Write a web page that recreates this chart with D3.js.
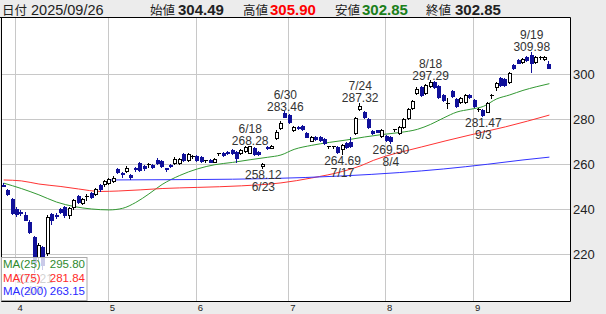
<!DOCTYPE html>
<html>
<head>
<meta charset="utf-8">
<script src="https://cdn.jsdelivr.net/npm/d3@7"></script>
<style>
  body { margin: 0; background: #ececec; }
  svg { display: block; font-family: "Liberation Sans", Arial, sans-serif; }
</style>
</head>
<body>
<div id="chart"></div>
<script>
// trading days shown (Mar 27 -> Sep 26, 2025)
var dates = [
  "03/27","03/28","03/31",
  "04/01","04/02","04/03","04/04","04/07","04/08","04/09","04/10","04/11","04/14",
  "04/15","04/16","04/17","04/18","04/21","04/22","04/23","04/24","04/25","04/28","04/30",
  "05/01","05/02","05/07","05/08","05/09","05/12","05/13","05/14","05/15","05/16",
  "05/19","05/20","05/21","05/22","05/23","05/26","05/27","05/28","05/29","05/30",
  "06/02","06/03","06/04","06/05","06/06","06/09","06/10","06/11","06/12","06/13",
  "06/16","06/17","06/18","06/19","06/20","06/23","06/24","06/25","06/26","06/27","06/30",
  "07/01","07/02","07/03","07/04","07/07","07/08","07/09","07/10","07/11","07/14","07/15",
  "07/16","07/17","07/18","07/22","07/23","07/24","07/25","07/28","07/29","07/30","07/31",
  "08/01","08/04","08/05","08/06","08/07","08/08","08/12","08/13","08/14","08/15",
  "08/18","08/19","08/20","08/21","08/22","08/25","08/26","08/27","08/28","08/29",
  "09/01","09/02","09/03","09/04","09/05","09/08","09/09","09/10","09/11","09/12",
  "09/16","09/17","09/18","09/19","09/22","09/24","09/25","09/26"
];

var open = [
  250.9,248.6,244.6,
  240.1,238.8,237.6,234.5,227.5,218.6,223.0,220.4,237.9,237.6,
  240.0,241.0,237.5,240.9,245.9,242.9,245.6,247.1,246.7,250.8,251.1,
  251.6,252.6,257.9,256.1,257.2,255.0,258.3,260.4,259.2,260.0,
  259.6,262.0,261.6,258.3,259.7,260.4,260.7,264.6,262.0,263.4,
  263.7,263.1,261.5,261.9,261.2,264.6,264.9,265.6,266.4,265.6,
  264.9,266.0,265.2,267.1,265.6,259.4,267.6,267.3,271.6,276.0,282.7,
  281.9,275.3,276.7,277.1,273.8,270.5,272.2,272.0,271.1,267.7,267.9,
  267.8,266.8,269.3,270.0,273.8,284.4,283.4,280.0,274.8,275.0,272.6,
  272.6,272.3,275.3,274.0,276.7,280.4,284.9,291.8,294.2,291.6,
  294.8,296.5,294.8,290.8,286.8,292.6,288.9,287.8,287.6,290.8,
  288.6,284.5,284.1,283.4,290.4,294.2,298.2,297.8,296.7,304.1,
  306.4,305.6,307.6,308.6,305.6,307.5,306.7,304.49
];
var high = [
  251.8,249.2,245.2,
  240.8,239.6,238.6,235.2,228.2,225.0,223.6,237.3,238.5,238.3,
  240.6,241.6,241.2,244.6,246.5,245.0,246.8,247.7,249.5,251.3,253.2,
  253.9,254.6,258.4,256.4,259.0,255.6,258.6,261.0,259.8,260.6,
  260.1,262.6,262.0,258.5,260.2,263.0,262.7,265.1,265.0,264.0,
  264.1,263.5,262.0,262.3,262.6,265.1,265.3,266.0,266.8,266.0,
  266.8,268.1,268.28,267.6,266.0,260.6,267.9,268.6,275.0,279.0,283.46,
  282.3,277.1,277.1,277.5,274.2,272.4,272.6,272.4,271.5,268.1,268.3,
  268.2,269.0,269.7,272.3,280.9,287.32,283.8,280.4,275.2,275.4,275.6,
  273.0,272.7,275.7,277.1,280.4,284.8,288.7,294.2,294.6,295.6,
  297.29,297.0,295.2,291.2,289.5,293.2,289.3,289.7,291.2,291.2,
  289.0,285.2,284.5,287.5,291.4,296.4,298.6,298.2,300.8,304.5,
  306.8,307.1,308.0,309.98,308.0,308.1,308.2,305.90
];
var low = [
  250.2,246.3,237.8,
  237.2,237.5,235.0,229.4,212.21,217.0,213.4,219.6,233.5,236.0,
  238.2,236.4,236.1,240.3,242.9,242.3,244.1,245.0,246.2,248.3,250.5,
  251.0,251.9,255.9,254.2,256.7,253.5,257.0,257.0,257.6,258.6,
  258.2,259.9,258.6,257.2,258.6,260.0,260.2,261.5,261.6,262.8,
  261.6,261.0,261.0,260.8,260.9,264.1,263.7,264.5,264.5,261.0,
  264.5,265.6,264.8,264.2,264.2,258.12,266.6,267.0,271.2,275.6,280.8,
  278.5,274.6,275.6,275.2,271.9,270.1,270.6,270.2,268.9,267.2,267.0,
  265.2,264.69,267.2,267.7,273.4,284.0,280.5,276.3,273.4,274.1,272.2,
  270.4,269.50,274.8,273.6,276.3,280.0,284.5,291.2,290.2,291.2,
  294.4,293.8,289.6,288.2,285.0,290.0,285.5,287.4,287.2,289.4,
  285.5,283.8,281.47,283.0,289.4,293.2,294.8,294.8,296.3,302.3,
  304.8,305.2,306.0,301.2,305.2,306.9,306.3,302.85
];
var close = [
  250.8,246.9,238.4,
  237.9,238.3,235.4,230.0,216.5,224.1,215.0,236.7,235.3,237.1,
  238.8,237.5,240.6,244.1,243.4,244.4,245.6,245.6,248.9,248.9,252.6,
  253.3,254.0,256.4,256.0,258.5,254.5,258.2,257.5,258.2,260.0,
  258.6,260.4,259.0,258.2,259.0,262.5,262.2,261.9,264.6,263.4,
  262.0,261.6,261.5,261.2,262.2,264.6,264.1,264.9,264.9,262.7,
  266.4,267.8,267.9,264.6,264.6,260.3,267.5,268.2,274.5,278.5,281.2,
  278.9,276.7,276.0,275.6,272.3,272.0,271.0,270.6,269.3,267.7,267.9,
  265.6,268.6,267.6,268.1,280.4,285.9,280.9,276.7,273.8,274.5,275.2,
  270.8,270.1,275.3,276.7,280.0,284.4,288.3,293.6,290.8,295.2,
  296.7,294.2,290.0,288.6,286.8,290.4,285.9,289.3,290.8,289.8,
  285.9,284.5,281.9,287.1,290.4,296.0,295.2,295.2,300.4,302.7,
  305.2,306.7,306.4,304.9,307.6,307.5,307.8,302.85
];

// moving averages: [date, value]
var ma25 = [
  ["03/27",251.6],["04/02",249.2],["04/08",246.4],["04/14",243.2],["04/18",241.2],
  ["04/24",240.1],["05/01",239.7],["05/08",240.4],["05/13",243.0],["05/16",246.8],
  ["05/21",251.0],["05/27",255.0],["06/02",257.9],["06/06",259.8],["06/12",260.8],
  ["06/18",262.0],["06/24",263.1],["06/27",264.1],["07/02",266.6],["07/08",268.4],
  ["07/14",269.7],["07/18",270.8],["07/25",272.1],["07/31",273.2],["08/06",274.1],
  ["08/13",275.5],["08/18",277.7],["08/21",280.6],["08/26",283.2],["08/29",284.4],
  ["09/03",285.7],["09/08",289.0],["09/11",290.8],["09/17",292.8],["09/22",294.4],
  ["09/26",295.80]
];
var ma75 = [
  ["03/27",253.0],["04/02",252.6],["04/08",251.2],["04/15",250.1],["04/21",249.0],
  ["04/28",247.9],["05/07",248.1],["05/14",248.6],["05/21",249.2],["06/02",249.7],
  ["06/16",250.4],["06/27",251.7],["07/08",253.9],["07/17",256.8],["07/24",259.2],
  ["07/29",261.7],["08/14",267.7],["08/29",273.0],["09/10",276.6],["09/26",281.84]
];
var ma200 = [
  ["05/01",253.0],["06/02",253.2],["06/24",253.6],["07/17",254.8],["08/06",256.3],
  ["08/21",257.9],["09/04",260.0],["09/17",261.9],["09/26",263.15]
];

var markHigh = ["06/18","06/30","07/24","08/18","09/19"];
var markLow = ["04/07","06/23","07/17","08/04","09/03"];
var yTicks = [220, 240, 260, 280, 300];

var svgWidth = 606;
var svgHeight = 314;
var plot = { left: 1.5, top: 17.5, right: 570.5, bottom: 301.5 };

var svg = d3.select("#chart")
  .append("svg")
  .attr("width", svgWidth)
  .attr("height", svgHeight);

var x = d3.scaleLinear()
  .domain([-0.5, 128.8])
  .range([plot.left, plot.right]);

var y = d3.scaleLinear()
  .domain([199.0, 325.2])
  .range([plot.bottom, plot.top]);

function idx(d) { return dates.indexOf(d); }
function px(v) { return Math.floor(v) + 0.5; }
// "08/04" -> "8/4"
function shortDate(d) { return d.split("/").map(s => +s).join("/"); }

var blue = "#10109a";

// background
svg.append("rect")
  .attr("width", svgWidth)
  .attr("height", svgHeight)
  .attr("fill", "#ececec");

svg.append("rect")
  .attr("x", plot.left)
  .attr("y", plot.top)
  .attr("width", plot.right - plot.left)
  .attr("height", plot.bottom - plot.top)
  .attr("fill", "#fff");

// grid
var grid = svg.append("g").attr("stroke", "#c8c8c8").attr("stroke-width", 1);

grid.selectAll(".hg")
  .data(yTicks)
  .enter()
  .append("line")
  .attr("x1", plot.left)
  .attr("x2", plot.right)
  .attr("y1", d => px(y(d)))
  .attr("y2", d => px(y(d)));

var monthStarts = dates.map((d, i) => i)
  .filter(i => i > 0 && dates[i].slice(0, 2) !== dates[i - 1].slice(0, 2));

grid.selectAll(".vg")
  .data(monthStarts)
  .enter()
  .append("line")
  .attr("x1", i => px(x(i) - 1))
  .attr("x2", i => px(x(i) - 1))
  .attr("y1", plot.top)
  .attr("y2", plot.bottom);

// moving averages
var line = d3.line()
  .x(d => x(idx(d[0])))
  .y(d => y(d[1]))
  .curve(d3.curveMonotoneX);

[[ma25, "#339933"], [ma75, "#ff3333"], [ma200, "#3333ff"]].forEach(function(m) {
  svg.append("path")
    .attr("d", line(m[0]))
    .attr("fill", "none")
    .attr("stroke", m[1])
    .attr("stroke-width", 1);
});

// candles
var candles = svg.append("g");

dates.forEach(function(d, i) {
  var cx = Math.round(x(i));
  var o = open[i], c = close[i];
  var up = c > o, flat = Math.abs(c - o) < 0.05;
  var col = (up || flat) ? "#000" : blue;

  candles.append("line")
    .attr("x1", cx - 0.5)
    .attr("x2", cx - 0.5)
    .attr("y1", Math.round(y(high[i])))
    .attr("y2", Math.round(y(low[i])) + 1)
    .attr("stroke", col);

  if (flat) {
    candles.append("line")
      .attr("x1", cx - 2)
      .attr("x2", cx + 2)
      .attr("y1", px(y(c)))
      .attr("y2", px(y(c)))
      .attr("stroke", "#000");
  } else {
    var top = Math.round(y(Math.max(o, c)));
    var bot = Math.round(y(Math.min(o, c)));
    candles.append("rect")
      .attr("x", cx - 1.5)
      .attr("y", top + 0.5)
      .attr("width", 3)
      .attr("height", Math.max(bot - top, 1))
      .attr("fill", up ? "#fff" : blue)
      .attr("stroke", up ? "#000" : blue);
  }
});

// high / low annotations
var notes = svg.append("g")
  .attr("font-size", "12px")
  .attr("fill", "#333")
  .attr("text-anchor", "middle");

markHigh.forEach(function(d) {
  var i = idx(d);
  notes.append("text")
    .attr("x", x(i))
    .attr("y", y(high[i]) - 12.5)
    .text(shortDate(d));
  notes.append("text")
    .attr("x", x(i))
    .attr("y", y(high[i]) - 0.5)
    .text(high[i].toFixed(2));
});

markLow.forEach(function(d) {
  var i = idx(d);
  notes.append("text")
    .attr("x", x(i))
    .attr("y", y(low[i]) + 11)
    .text(low[i].toFixed(2));
  notes.append("text")
    .attr("x", x(i))
    .attr("y", y(low[i]) + 23)
    .text(shortDate(d));
});

// frame
svg.append("path")
  .attr("d", `M${plot.left},${plot.top}V${plot.bottom}H${plot.right}V${plot.top}`)
  .attr("fill", "none")
  .attr("stroke", "#000");
svg.append("line")
  .attr("x1", 0)
  .attr("x2", plot.right)
  .attr("y1", plot.top)
  .attr("y2", plot.top)
  .attr("stroke", "#000");

// y axis labels (right side)
svg.append("g")
  .selectAll("text")
  .data(yTicks)
  .enter()
  .append("text")
  .attr("x", 573)
  .attr("y", d => y(d) + 5)
  .attr("font-size", "13px")
  .attr("fill", "#222")
  .text(d => d);

// x axis labels (month numbers)
svg.append("g")
  .selectAll("text")
  .data(monthStarts)
  .enter()
  .append("text")
  .attr("x", i => x(i) + 0.5)
  .attr("y", 310.5)
  .attr("font-size", "9.5px")
  .attr("fill", "#222")
  .text(i => +dates[i].slice(0, 2));

// legend box (semi transparent, the 4/7 low label sits under it)
var legend = svg.append("g");
legend.append("rect")
  .attr("x", 1.5)
  .attr("y", 257.5)
  .attr("width", 85.5)
  .attr("height", 43)
  .attr("fill", "#fff")
  .attr("fill-opacity", 0.78)
  .attr("stroke", "#aaa");

var legendRows = [
  ["MA(25)", ma25, "#2e8a2e"],
  ["MA(75)", ma75, "#ff2a2a"],
  ["MA(200)", ma200, "#2a2aff"]
];
legendRows.forEach(function(r, k) {
  legend.append("text")
    .attr("x", 3)
    .attr("y", 268 + k * 13.6)
    .attr("font-size", "11.5px")
    .attr("fill", r[2])
    .text(r[0]);
  legend.append("text")
    .attr("x", 85)
    .attr("y", 268 + k * 13.6)
    .attr("font-size", "11.5px")
    .attr("text-anchor", "end")
    .attr("fill", r[2])
    .text(r[1][r[1].length - 1][1].toFixed(2));
});

// header
var last = dates.length - 1;
var header = svg.append("g");
var cjk = "'Noto Sans CJK JP', sans-serif";

function headLabel(xPos, txt) {
  header.append("text")
    .attr("x", xPos)
    .attr("y", 14.5)
    .attr("font-family", cjk)
    .attr("font-size", "12.5px")
    .attr("fill", "#222")
    .text(txt);
}
function headValue(xPos, v, color) {
  header.append("text")
    .attr("x", xPos)
    .attr("y", 15)
    .attr("font-size", "15px")
    .attr("font-weight", "bold")
    .attr("fill", color)
    .text(v.toFixed(2));
}

headLabel(2, "日付");
header.append("text")
  .attr("x", 31)
  .attr("y", 15)
  .attr("font-size", "14.5px")
  .attr("fill", "#222")
  .text("2025/" + dates[last]);

headLabel(150, "始値");
headValue(178, open[last], "#222");
headLabel(243, "高値");
headValue(270, high[last], "#ff0000");
headLabel(335, "安値");
headValue(362, low[last], "#1a7f1a");
headLabel(426, "終値");
headValue(455, close[last], "#222");
</script>
</body>
</html>
